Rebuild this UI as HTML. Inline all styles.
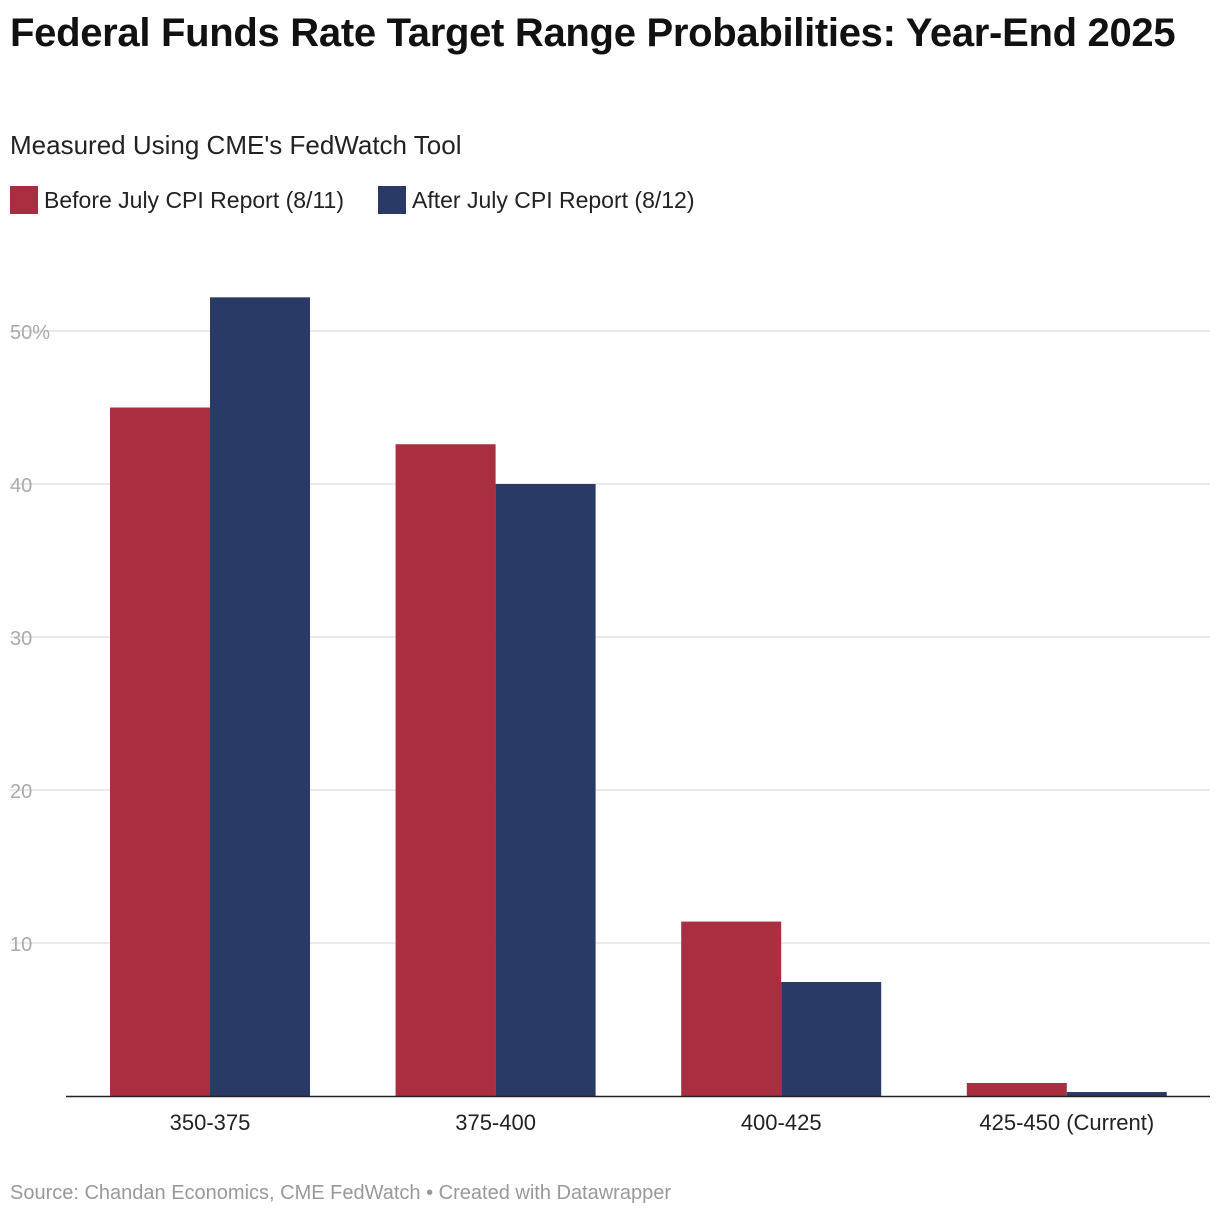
<!DOCTYPE html>
<html><head><meta charset="utf-8"><style>
body{margin:0;background:#fff;font-family:"Liberation Sans",Arial,sans-serif;}
.wrap{position:relative;width:1220px;height:1218px;overflow:hidden;}
h1{position:absolute;left:10px;top:10px;margin:0;font-size:40px;line-height:46px;font-weight:bold;color:#111;width:1190px;letter-spacing:-0.3px}
.sub{position:absolute;left:10px;top:130px;font-size:26px;color:#222}
.leg{position:absolute;top:186px;font-size:23px;color:#222;display:flex;align-items:center}
.sw{width:28px;height:28px;margin-right:6px}
.src{position:absolute;left:10px;top:1182px;font-size:20px;color:#999}
</style></head><body><div class="wrap">
<h1>Federal Funds Rate Target Range Probabilities: Year-End 2025</h1>
<div class="sub">Measured Using CME's FedWatch Tool</div>
<div class="leg" style="left:10px"><div class="sw" style="background:#a82e40"></div>Before July CPI Report (8/11)</div>
<div class="leg" style="left:378px"><div class="sw" style="background:#2a3a66"></div>After July CPI Report (8/12)</div>
<svg id="svg" width="1220" height="1218" style="position:absolute;left:0;top:0"></svg>
<div class="src">Source: Chandan Economics, CME FedWatch • Created with Datawrapper</div>
</div>
<script>
const categories=["350-375","375-400","400-425","425-450 (Current)"];
const beforeVals=[45.0,42.6,11.4,0.85];
const afterVals=[52.2,40.0,7.45,0.26];
const tickVals=[10,20,30,40,50];
const tickLabels=["10","20","30","40","50%"];
const svg=document.getElementById('svg');const NS="http://www.w3.org/2000/svg";
const y=v=>1096-v*15.3;
const xc=i=>210+i*285.6;
function mk(t,a){const e=document.createElementNS(NS,t);for(const k in a)e.setAttribute(k,a[k]);svg.appendChild(e);return e;}
tickVals.forEach((v,i)=>{
 const l=mk('line',{x1:10,x2:1210,y1:y(v),y2:y(v),stroke:'#e3e3e3','stroke-width':1.5});
 
 
 const t=mk('text',{x:10,y:y(v)+8,fill:'#aaa','font-size':20,'font-family':'Liberation Sans, sans-serif'});t.textContent=tickLabels[i];
 
 
});
categories.forEach((c,i)=>{
 const r=mk('rect',{x:xc(i)-100,y:y(beforeVals[i]),width:100,height:y(0)-y(beforeVals[i]),fill:'#a82e40'});
 
 
 const b=mk('rect',{x:xc(i),y:y(afterVals[i]),width:100,height:y(0)-y(afterVals[i]),fill:'#2a3a66'});
 
 
 const t=mk('text',{x:xc(i),y:1130,fill:'#222','font-size':22,'text-anchor':'middle','font-family':'Liberation Sans, sans-serif'});t.textContent=c;
 
 
});
const ax=mk('line',{x1:66,x2:1210,y1:1096.5,y2:1096.5,stroke:'#222','stroke-width':1.5});


</script></body></html>
